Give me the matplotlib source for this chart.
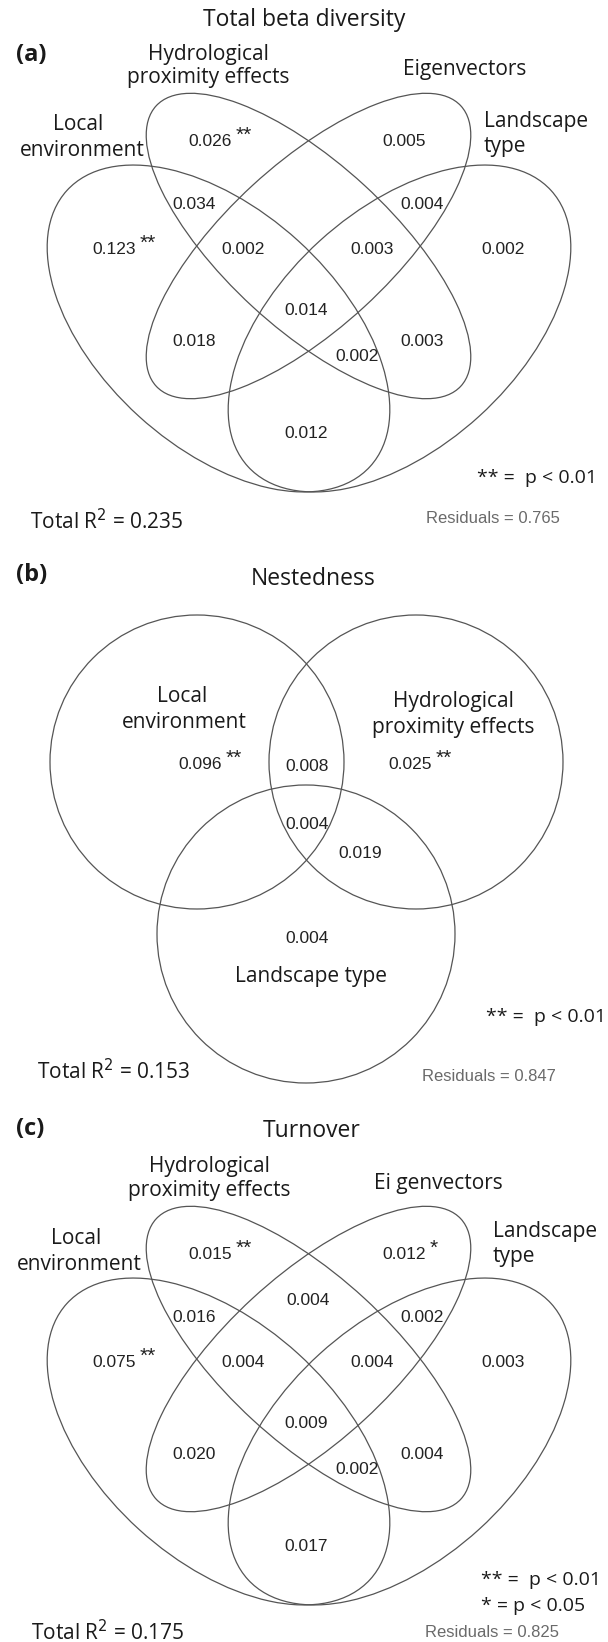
import matplotlib.pyplot as plt
from matplotlib.patches import Ellipse, Circle

LABEL_FONT = ['Open Sans', 'DejaVu Sans']
NUM_FONT = ['Liberation Sans', 'DejaVu Sans']
LINE_COLOR = '#555555'

# ---------------- data ----------------
# 4-set diagrams: L = local environment, H = hydrological proximity,
# E = eigenvectors, T = landscape type
quad_regions = ['H', 'E', 'HE', 'LH', 'ET', 'L', 'LHE', 'HET', 'T',
                'LHET', 'LE', 'HT', 'LHT', 'LT']
beta_values = [0.026, 0.005, None, 0.034, 0.004, 0.123, 0.002,
               0.003, 0.002, 0.014, 0.018, 0.003, 0.002, 0.012]
beta_sig = ['**', '', '', '', '', '**', '', '', '', '', '', '', '', '']
turn_values = [0.015, 0.012, 0.004, 0.016, 0.002, 0.075, 0.004,
               0.004, 0.003, 0.009, 0.020, 0.004, 0.002, 0.017]
turn_sig = ['**', '*', '', '', '', '**', '', '', '', '', '', '', '', '']

# 3-set diagram (nestedness)
tri_regions = ['L', 'LH', 'H', 'LHT', 'HT', 'T']
nest_values = [0.096, 0.008, 0.025, 0.004, 0.019, 0.004]
nest_sig = ['**', '', '**', '', '', '']

titles = ['Total beta diversity', 'Nestedness', 'Turnover']
panel_tags = ['(a)', '(b)', '(c)']
total_r2 = [0.235, 0.153, 0.175]
residuals = [0.765, 0.847, 0.825]

# ---------------- layout (pixel coords, y down) ----------------
quad_pos = {'H': (210, 146), 'E': (404, 146), 'HE': (308, 192),
            'LH': (194, 209), 'ET': (422, 209), 'L': (114, 254),
            'LHE': (243, 254), 'HET': (372, 254), 'T': (503, 254),
            'LHET': (306, 315), 'LE': (194, 346), 'HT': (422, 346),
            'LHT': (357, 361), 'LT': (306, 438)}
# (centre, width, height, angle)
quad_shapes = [((218.5, 328.5), 410, 237, 42.3),
               ((308.5, 246.0), 414, 165, 42.6),
               ((308.5, 246.0), 414, 165, -42.6),
               ((399.5, 328.5), 410, 237, -42.3)]
tri_pos = {'L': (200, 769), 'LH': (307, 771), 'H': (410, 769),
           'LHT': (307, 829), 'HT': (360, 858), 'T': (307, 943)}
tri_circles = [((197, 762), 147), ((416, 762), 147), ((306, 934), 149)]

fig = plt.figure(figsize=(6.08, 16.42), dpi=100)
ax = fig.add_axes([0, 0, 1, 1])
ax.set_xlim(0, 608)
ax.set_ylim(1642, 0)
ax.axis('off')


def label(x, y, s, size=15, ha='center', **kw):
    ax.text(x, y, s, fontsize=size, ha=ha, va='baseline',
            family=LABEL_FONT, color='#1a1a1a', **kw)


def number(x, y, value, sig=''):
    t = ax.text(x, y, f'{value:.3f}', fontsize=12.5, ha='center',
                va='baseline', family=NUM_FONT, color='#222222')
    if sig:
        ax.annotate(sig, xy=(1, 0), xycoords=t, xytext=(2.5, 6),
                    textcoords='offset points', fontsize=15,
                    family=NUM_FONT, va='baseline', color='#222222')


def footer(r2, resid, y_r2, y_res, x_r2, x_res):
    label(x_r2, y_r2, f'Total R$^2$ = {r2:.3f}', size=15, ha='left')
    ax.text(x_res, y_res, f'Residuals = {resid:.3f}', fontsize=12,
            ha='left', va='baseline', family=NUM_FONT, color='#6a6a6a')


def quad_panel(dy, values, sig):
    for (cx, cy), w, h, ang in quad_shapes:
        ax.add_patch(Ellipse((cx, cy + dy), w, h, angle=ang, fill=False,
                             lw=0.9, ec=LINE_COLOR))
    for reg, val, s in zip(quad_regions, values, sig):
        if val is None:
            continue
        x, y = quad_pos[reg]
        number(x, y + dy, val, s)


# ---- (a) total beta diversity ----
label(304, 25.5, titles[0], size=16.5)
label(16, 61, panel_tags[0], size=17, ha='left', weight='bold')
label(208, 60, 'Hydrological')
label(208, 83, 'proximity effects')
label(465, 75, 'Eigenvectors')
label(78, 130.5, 'Local')
label(82, 156, 'environment')
label(484, 127, 'Landscape', ha='left')
label(484, 152, 'type', ha='left')
quad_panel(0, beta_values, beta_sig)
label(477, 483, '** =  p < 0.01', size=14, ha='left')
footer(total_r2[0], residuals[0], 529, 523, 30, 426)

# ---- (b) nestedness ----
label(313, 585, titles[1], size=16.5)
label(16, 581, panel_tags[1], size=17, ha='left', weight='bold')
for (cx, cy), r in tri_circles:
    ax.add_patch(Circle((cx, cy), r, fill=False, lw=0.9, ec=LINE_COLOR))
label(182, 702, 'Local')
label(184, 728, 'environment')
label(453, 707, 'Hydrological')
label(453, 733, 'proximity effects')
label(311, 982, 'Landscape type')
for reg, val, s in zip(tri_regions, nest_values, nest_sig):
    x, y = tri_pos[reg]
    number(x, y, val, s)
label(486, 1022, '** =  p < 0.01', size=14, ha='left')
footer(total_r2[1], residuals[1], 1079, 1081, 37, 422)

# ---- (c) turnover ----
dy = 1113
label(312, 1137, titles[2], size=16.5)
label(16, 1135, panel_tags[2], size=17, ha='left', weight='bold')
label(209, 1172, 'Hydrological')
label(209, 1196, 'proximity effects')
label(438, 1189, 'Ei genvectors')
label(76, 1244, 'Local')
label(79, 1270, 'environment')
label(493, 1237, 'Landscape', ha='left')
label(493, 1262, 'type', ha='left')
quad_panel(dy, turn_values, turn_sig)
label(481, 1585, '** =  p < 0.01', size=14, ha='left')
label(481, 1611, '* = p < 0.05', size=14, ha='left')
footer(total_r2[2], residuals[2], 1640, 1637, 31, 425)

fig.savefig('out.png', dpi=100)
